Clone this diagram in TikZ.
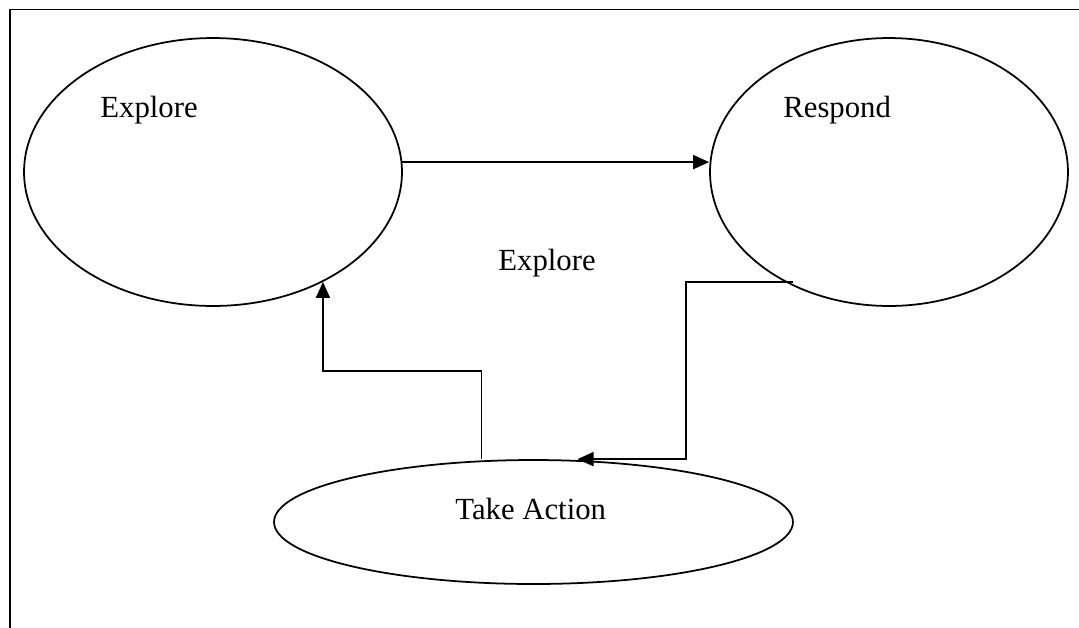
\documentclass[tikz,border=0pt]{standalone}
\usepackage{fontspec}
\setmainfont{Liberation Serif}
\usetikzlibrary{shapes.geometric,arrows.meta,positioning,calc}

\begin{document}
\begin{tikzpicture}[x=0.02cm, y=-0.02cm, >={Triangle[length=3.2mm,width=2.8mm]},
  every node/.style={inner sep=0pt},
  bubble/.style={draw, ellipse, line width=1pt},
  word/.style={anchor=base west, font=\fontsize{17.5}{21}\selectfont},
  link/.style={->, line width=1pt}]
  \useasboundingbox (0,0) rectangle (1079,627);
  \clip (0,0) rectangle (1079,627);
  % page frame, cut off at the right and bottom
  \draw[line width=0.9pt] (10,640) -- (10,9.5) -- (1090,9.5);

  \node[bubble, minimum width=7.56cm, minimum height=5.36cm] (explore) at (213,172) {};
  \node[bubble, minimum width=7.16cm, minimum height=5.36cm] (respond) at (889,172) {};
  \node[bubble, minimum width=10.38cm, minimum height=2.48cm] (action) at (533.5,522) {};

  \node[word] (explore text) at (100,117) {Explore};
  \node[word] (respond text) at (783,117) {Respond};
  \node[word] (middle text) at (498,270) {Explore};
  \node[word] (action text) at (455,519) {Take Action};

  \coordinate (respond out) at (793,282);
  \coordinate (action out) at ($(action.north)+(-52,0)$);
  \coordinate (explore in) at (explore.-45);

  \draw[link] (explore.3) -- (explore.3 -| respond.west);
  \draw[link] (respond out) -- (686,282) |- ($(action.north)+(44,0)$);
  \draw[link] (action out) |- ($(explore in)+(0,89)$) -- (explore in);
\end{tikzpicture}
\end{document}
